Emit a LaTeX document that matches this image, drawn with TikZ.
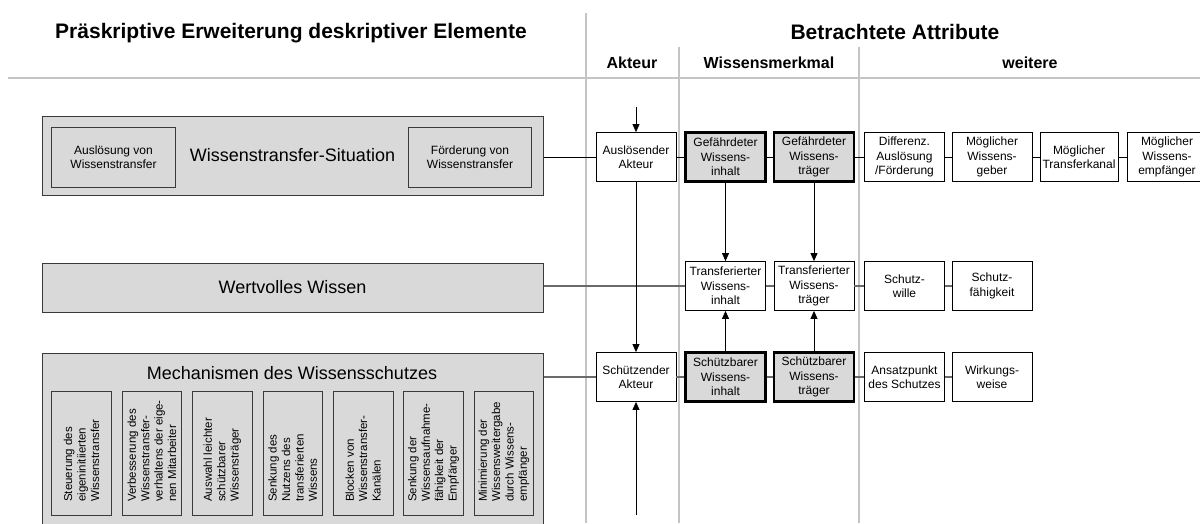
\documentclass[tikz,border=0pt]{standalone}
\usepackage{fontspec}
\setmainfont{Liberation Sans}
\usetikzlibrary{arrows.meta,shadows}

\definecolor{boxgray}{HTML}{D9D9D9}
\definecolor{rulegray}{HTML}{C4C4C4}
\definecolor{edgegray}{HTML}{3A3A3A}
\definecolor{linkgray}{HTML}{6A6A6A}

\tikzset{
  sepline/.style={rulegray, line width=2pt},
  head/.style={font=\bfseries\fontsize{21}{25}\selectfont},
  subhead/.style={font=\bfseries\fontsize{16}{19}\selectfont},
  bigbox/.style={draw=edgegray, fill=boxgray, line width=1pt, minimum width=501pt,
    drop shadow={shadow xshift=1.2pt, shadow yshift=-1.2pt, fill=black!60, opacity=1},
    font=\fontsize{18}{21}\selectfont},
  subbox/.style={draw=edgegray, fill=boxgray, line width=0.8pt, align=center,
    minimum width=123.5pt, minimum height=60pt, font=\fontsize{12}{14.5}\selectfont},
  attr/.style={draw, fill=white, line width=0.8pt, align=center, minimum width=80pt,
    minimum height=49pt, inner sep=1pt, font=\fontsize{12}{14.5}\selectfont},
  keyattr/.style={attr, fill=boxgray, line width=2.8pt},
  mechbox/.style={draw=edgegray, fill=boxgray, line width=0.8pt, minimum width=59.6pt,
    minimum height=123.3pt},
  mechtext/.style={rotate=90, anchor=west, align=left, inner sep=0pt,
    font=\fontsize{11.5}{13.4}\selectfont},
}

\begin{document}
\begin{tikzpicture}[x=1pt, y=-1pt, >={Triangle[length=8pt,width=7pt]}]
    \useasboundingbox (0,0) rectangle (1200,523);
    \clip (0,0) rectangle (1200,523);
    % columns and headings
    \draw[sepline] (8,78) -- (1200,78);
    \draw[sepline] (586,13) -- (586,523);
    \draw[sepline] (679,47) -- (679,523);
    \draw[sepline] (859,47) -- (859,523);
    \node[head] (lefthead) at (291,33) {Präskriptive Erweiterung deskriptiver Elemente};
    \node[head] (righthead) at (895,32) {Betrachtete Attribute};
    \node[subhead] (colakteur) at (632,63) {Akteur};
    \node[subhead] (colmerkmal) at (769,63) {Wissensmerkmal};
    \node[subhead] (colweitere) at (1030,63) {weitere};

    % left side
    \node[bigbox, minimum height=79pt] (wts) at (292.5,155.5) {Wissenstransfer-Situation};
    \node[subbox] (ausloesung) at (113.5,157) {Auslösung von\\Wissenstransfer};
    \node[subbox] (foerderung) at (470,157) {Förderung von\\Wissenstransfer};
    \node[bigbox, minimum height=49pt] (wissen) at (292.5,287.5) {Wertvolles Wissen};
    \node[bigbox, minimum height=207pt] (mech) at (292.5,456.5) {};
    \node[font=\fontsize{18}{21}\selectfont] (mechtitle) at (292,373) {Mechanismen des Wissensschutzes};
    \foreach \i/\txt in {0/{Steuerung des\\eigeninitiierten\\Wissenstransfer},
        1/{Verbesserung des\\Wissenstransfer-\\verhaltens der eige-\\nen Mitarbeiter},
        2/{Auswahl leichter\\schützbarer\\Wissensträger},
        3/{Senkung des\\Nutzens des\\transferierten\\Wissens},
        4/{Blocken von\\Wissenstransfer-\\Kanälen},
        5/{Senkung der\\Wissensaufnahme-\\fähigkeit der\\Empfänger},
        6/{Minimierung der\\Wissensweitergabe\\durch Wissens-\\empfänger}} {
        \node[mechbox] (mech\i) at ({81.5+70.4*\i},453.4) {};
        \node[mechtext] (mechtxt\i) at ({81.5+70.4*\i},502) {\txt};
    }

    % attributes
    \node[attr] (ausakteur) at (636,157) {Auslösender\\Akteur};
    \node[keyattr] (gefinhalt) at (725.5,157) {Gefährdeter\\Wissens-\\inhalt};
    \node[keyattr] (geftraeger) at (814,157) {Gefährdeter\\Wissens-\\träger};
    \node[attr] (differenz) at (904.5,157) {Differenz.\\Auslösung\\/Förderung};
    \node[attr] (geber) at (992,157) {Möglicher\\Wissens-\\geber};
    \node[attr, minimum width=78pt] (kanal) at (1079,157) {Möglicher\\Transferkanal};
    \node[attr] (empfaenger) at (1167,157) {Möglicher\\Wissens-\\empfänger};

    \node[attr] (trinhalt) at (725.5,286) {Transferierter\\Wissens-\\inhalt};
    \node[attr] (trtraeger) at (814,286) {Transferierter\\Wissens-\\träger};
    \node[attr] (wille) at (904.5,286) {Schutz-\\wille};
    \node[attr] (faehigkeit) at (992,286) {Schutz-\\fähigkeit};

    \node[attr] (schakteur) at (636,377) {Schützender\\Akteur};
    \node[keyattr] (schinhalt) at (725.5,377) {Schützbarer\\Wissens-\\inhalt};
    \node[keyattr] (schtraeger) at (814,377) {Schützbarer\\Wissens-\\träger};
    \node[attr] (ansatz) at (904.5,377) {Ansatzpunkt\\des Schutzes};
    \node[attr] (wirkung) at (992,377) {Wirkungs-\\weise};

    % links
    \draw[line width=0.8pt] (ausakteur.west -| wts.east) -- (ausakteur.west);
    \draw[line width=0.8pt] (ausakteur) -- (gefinhalt) -- (geftraeger) -- (differenz) -- (geber) -- (kanal) -- (empfaenger);
    \draw[linkgray, line width=1.8pt] (trinhalt.west -| wissen.east) -- (trinhalt.west);
    \draw[linkgray, line width=1.8pt] (trinhalt) -- (trtraeger) -- (wille) -- (faehigkeit);
    \draw[linkgray, line width=1.3pt] (schakteur.west -| mech.east) -- (schakteur.west);
    \draw[linkgray, line width=1.3pt] (schakteur) -- (schinhalt) -- (schtraeger) -- (ansatz) -- (wirkung);

    \coordinate (topin) at (636,107);
    \coordinate (botin) at (636,515);
    \draw[->, line width=0.8pt] (topin) -- (ausakteur.north);
    \draw[->, line width=0.8pt] (ausakteur.south) -- (schakteur.north);
    \draw[->, line width=0.8pt] (botin) -- (schakteur.south);
    \draw[->, line width=0.8pt] (gefinhalt.south) -- (trinhalt.north);
    \draw[->, line width=0.8pt] (geftraeger.south) -- (trtraeger.north);
    \draw[->, line width=0.8pt] (schinhalt.north) -- (trinhalt.south);
    \draw[->, line width=0.8pt] (schtraeger.north) -- (trtraeger.south);
\end{tikzpicture}
\end{document}
